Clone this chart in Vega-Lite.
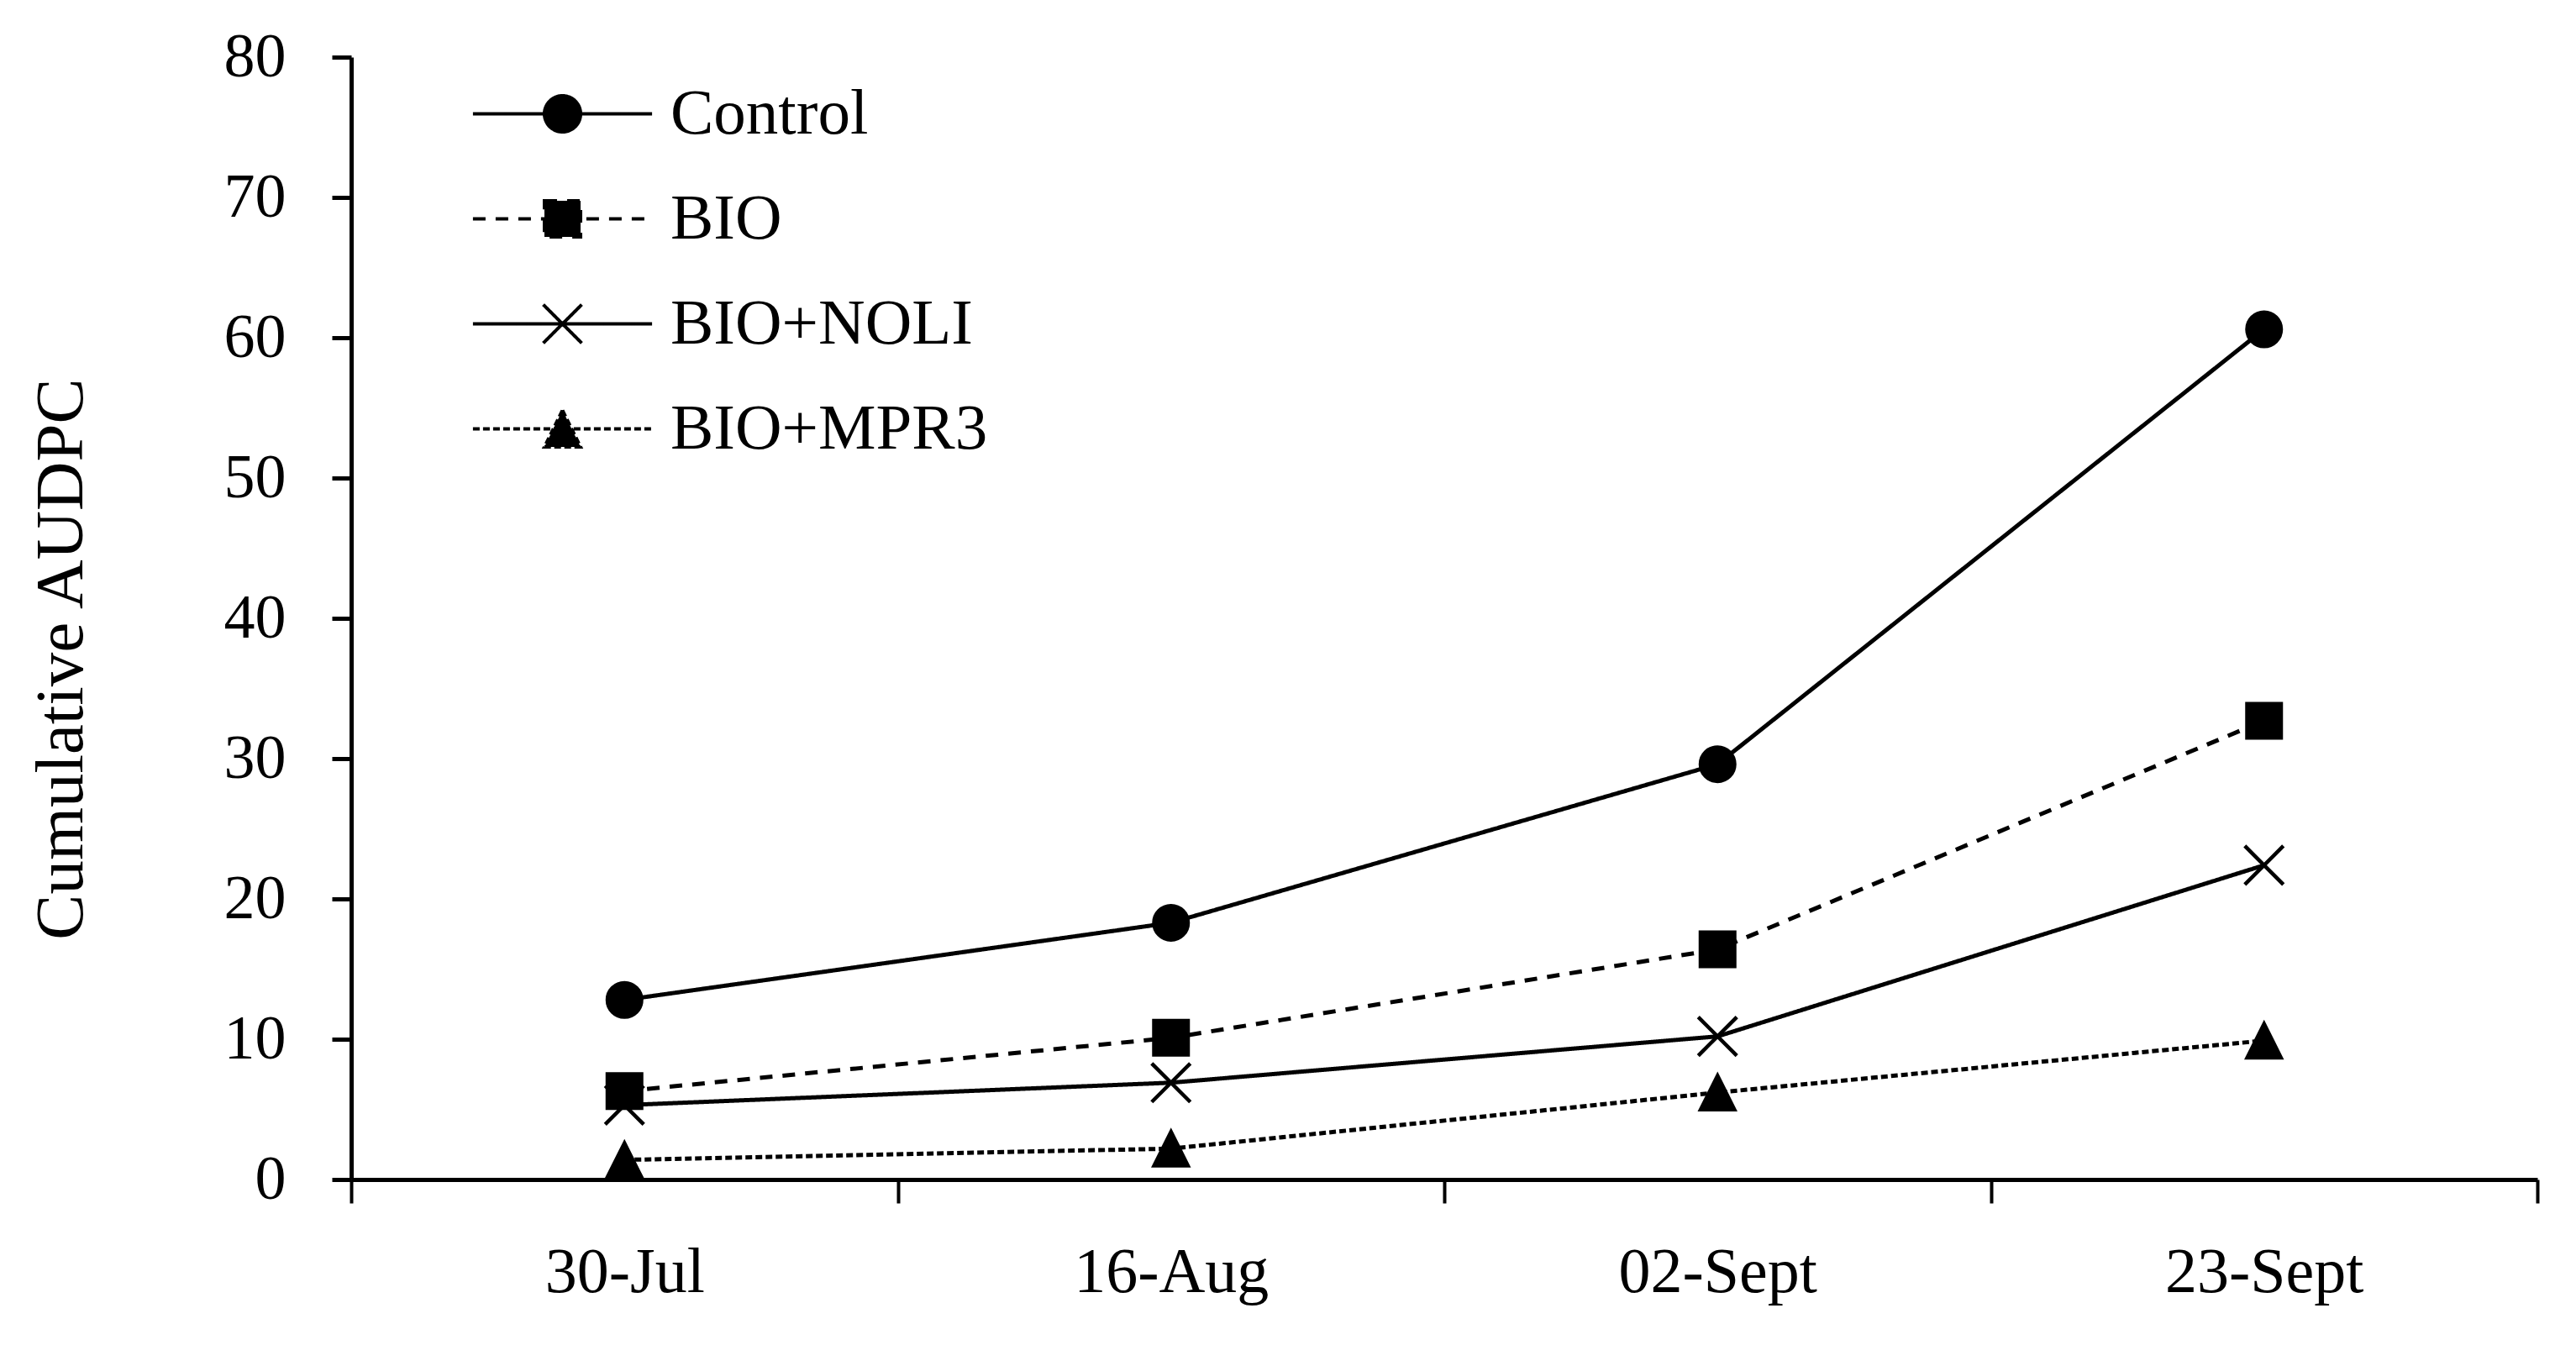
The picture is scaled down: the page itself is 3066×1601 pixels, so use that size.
{
  "$schema": "https://vega.github.io/schema/vega-lite/v6.json",
  "autosize": "none",
  "width": 2602,
  "height": 1336,
  "padding": {"left": 418, "top": 68, "right": 46, "bottom": 197},
  "background": "white",
  "config": {
    "view": {"stroke": null},
    "font": "Liberation Serif",
    "axis": {"grid": false, "domainColor": "black", "tickColor": "black", "labelColor": "black", "titleColor": "black", "labelFont": "Liberation Serif", "titleFont": "Liberation Serif", "titleFontWeight": "normal", "labelLimit": 0},
    "legend": {"labelFont": "Liberation Serif", "labelColor": "black", "labelLimit": 0}
  },
  "data": {
    "values": [
      {"date": "30-Jul", "treatment": "Control", "audpc": 12.8},
      {"date": "16-Aug", "treatment": "Control", "audpc": 18.3},
      {"date": "02-Sept", "treatment": "Control", "audpc": 29.6},
      {"date": "23-Sept", "treatment": "Control", "audpc": 60.6},
      {"date": "30-Jul", "treatment": "BIO", "audpc": 6.3},
      {"date": "16-Aug", "treatment": "BIO", "audpc": 10.1},
      {"date": "02-Sept", "treatment": "BIO", "audpc": 16.4},
      {"date": "23-Sept", "treatment": "BIO", "audpc": 32.7},
      {"date": "30-Jul", "treatment": "BIO+NOLI", "audpc": 5.3},
      {"date": "16-Aug", "treatment": "BIO+NOLI", "audpc": 6.9},
      {"date": "02-Sept", "treatment": "BIO+NOLI", "audpc": 10.2},
      {"date": "23-Sept", "treatment": "BIO+NOLI", "audpc": 22.4},
      {"date": "30-Jul", "treatment": "BIO+MPR3", "audpc": 1.4},
      {"date": "16-Aug", "treatment": "BIO+MPR3", "audpc": 2.2},
      {"date": "02-Sept", "treatment": "BIO+MPR3", "audpc": 6.2},
      {"date": "23-Sept", "treatment": "BIO+MPR3", "audpc": 9.9}
    ]
  },
  "encoding": {
    "x": {
      "field": "date", "type": "nominal",
      "sort": ["30-Jul", "16-Aug", "02-Sept", "23-Sept"],
      "scale": {"type": "band", "paddingInner": 0, "paddingOuter": 0},
      "axis": {
        "title": null, "labelAngle": 0, "tickBand": "extent",
        "domainWidth": 5, "tickWidth": 4, "tickSize": 28,
        "labelFontSize": 76, "labelBaseline": "alphabetic", "labelPadding": 105
      }
    },
    "y": {
      "field": "audpc", "type": "quantitative",
      "scale": {"domain": [0, 80], "nice": false, "zero": true},
      "axis": {
        "title": "Cumulative AUDPC", "values": [0, 10, 20, 30, 40, 50, 60, 70, 80],
        "domainWidth": 5, "tickWidth": 5, "tickSize": 23,
        "labelFontSize": 74, "labelPadding": 55,
        "titleFontSize": 81, "titleAngle": -90, "titleX": -321, "titleY": 716,
        "titleAlign": "center", "titleBaseline": "alphabetic"
      }
    }
  },
  "layer": [
    {
      "mark": {"type": "line", "color": "black", "strokeWidth": 5},
      "encoding": {
        "detail": {"field": "treatment"},
        "strokeDash": {
          "field": "treatment", "type": "nominal",
          "scale": {"domain": ["Control", "BIO", "BIO+NOLI", "BIO+MPR3"], "range": [[1, 0], [15, 12], [1, 0], [8, 4]]},
          "legend": {
            "title": null, "orient": "none", "legendX": 213, "legendY": 29,
            "padding": 0, "symbolSize": 1681, "symbolStrokeWidth": 4, "symbolStrokeColor": "black",
            "labelFontSize": 77, "labelOffset": 90, "rowPadding": 47,
            "symbolType": "stroke",
            "encode": {
              "symbols": {
                "update": {
                  "shape": {"signal": "datum.value === 'Control' ? 'M-5.2,0H5.2M-1.05,0A1.05,1.05 0 1,0 1.05,0A1.05,1.05 0 1,0 -1.05,0Z' : datum.value === 'BIO' ? 'M-5.2,0H5.2M-1.05,-1.05H1.05V1.05H-1.05Z' : datum.value === 'BIO+NOLI' ? 'M-5.2,0H5.2M-1.12,-1.12L1.12,1.12M-1.12,1.12L1.12,-1.12' : 'M-5.2,0H5.2M0,-1.08L1.05,1.05H-1.05Z'"},
                  "fill": {"value": "black"},
                  "stroke": {"value": "black"},
                  "strokeWidth": {"value": 4}
                }
              }
            }
          }
        }
      }
    },
    {
      "transform": [{"filter": "datum.treatment === 'Control'"}],
      "mark": {"type": "point", "filled": true, "color": "black", "stroke": "black", "strokeWidth": 4, "opacity": 1, "size": 1681, "shape": "circle"}
    },
    {
      "transform": [{"filter": "datum.treatment === 'BIO'"}],
      "mark": {"type": "point", "filled": true, "color": "black", "stroke": "black", "strokeWidth": 4, "opacity": 1, "size": 1681, "shape": "square"}
    },
    {
      "transform": [{"filter": "datum.treatment === 'BIO+NOLI'"}],
      "mark": {"type": "point", "filled": true, "color": "black", "stroke": "black", "strokeWidth": 4.5, "opacity": 1, "size": 1681, "shape": "M-1.12,-1.12L1.12,1.12M-1.12,1.12L1.12,-1.12"}
    },
    {
      "transform": [{"filter": "datum.treatment === 'BIO+MPR3'"}],
      "mark": {"type": "point", "filled": true, "color": "black", "stroke": "black", "strokeWidth": 4, "opacity": 1, "size": 1681, "shape": "M0,-1L1,1H-1Z"}
    }
  ]
}
